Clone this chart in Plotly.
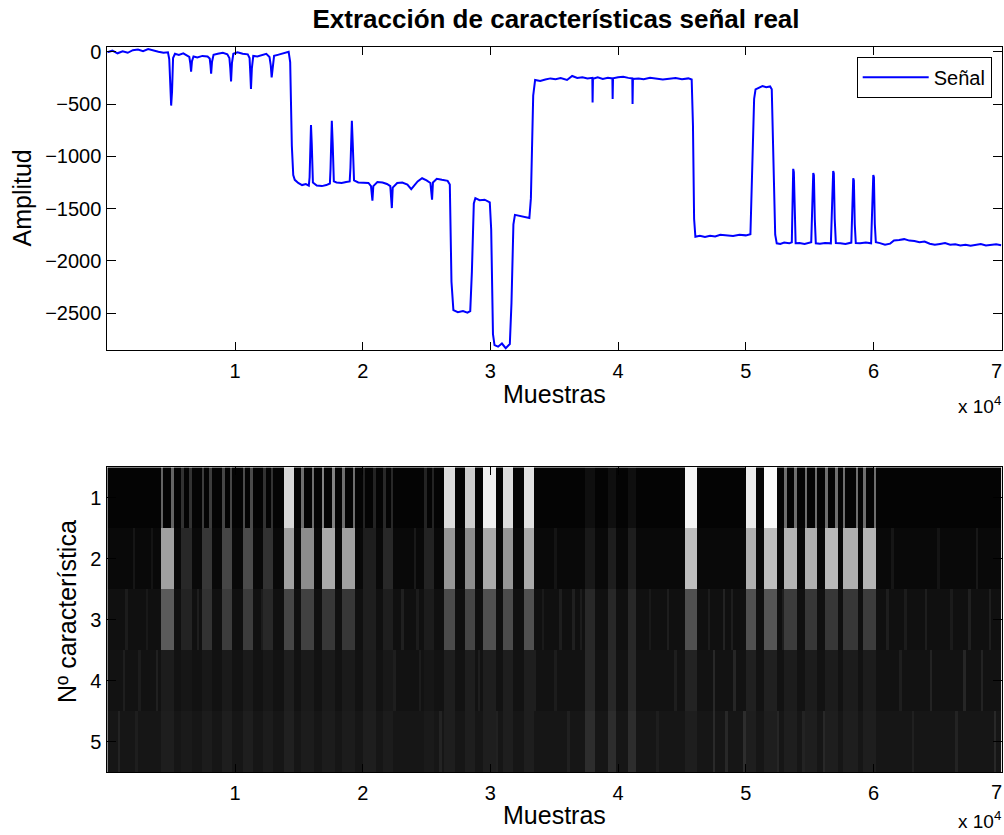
import plotly.graph_objects as go

title_text = "Extracción de características señal real"
x_label = "Muestras"
y_label_top = "Amplitud"
y_label_bottom = "Nº característica"
series_name = "Señal"

# ---- signal ----
sig_x = [0, 400, 800, 1200, 1600, 2000, 2400, 2800, 3200, 3600, 4000, 4400, 4750, 4850, 4950, 5000, 5070, 5150,
         5300, 5600, 5950, 6250, 6420, 6500, 6560, 6630, 6750, 7050, 7450, 7850, 8020, 8080, 8130, 8200, 8320,
         8650, 9050, 9400, 9560, 9630, 9690, 9760, 9870, 10200, 10600, 11000, 11140, 11200, 11250, 11320, 11430,
         11750, 12100, 12450, 12700, 12800, 12870, 12950, 13060, 13350, 13700, 14000, 14200, 14320, 14450, 14560,
         14680, 14950, 15250, 15550, 15780, 15840, 15900, 15950, 16010, 16100, 16400, 16800, 17150, 17430, 17480,
         17540, 17580, 17650, 17740, 17950, 18350, 18700, 18980, 19040, 19110, 19150, 19220, 19320, 19650, 20050,
         20450, 20650, 20710, 20760, 20830, 21150, 21550, 21900, 22160, 22220, 22280, 22350, 22700, 23100, 23500,
         23800, 23980, 24300, 24650, 25000, 25300, 25380, 25430, 25500, 25800, 26200, 26650, 26820, 26950, 27100,
         27450, 27850, 28200, 28420, 28550, 28700, 28820, 29150, 29550, 29950, 30060, 30200, 30320, 30600, 30900,
         31200, 31520, 31650, 31800, 31920, 32250, 32650, 33050, 33170, 33350, 33500, 33900, 34300, 34700, 35100,
         35500, 36000, 36400, 36800, 37200, 37600, 37980, 38000, 38030, 38400, 38800, 39200, 39550, 39570, 39600,
         40000, 40400, 40800, 41110, 41130, 41160, 41600, 42000, 42500, 43000, 43500, 44000, 44500, 45000, 45500,
         45760, 45860, 45950, 46050, 46400, 46800, 47200, 47600, 48000, 48500, 49000, 49500, 50000, 50360, 50500,
         50650, 50760, 51000, 51300, 51600, 51900, 52030, 52150, 52300, 52420, 52700, 53000, 53400, 53600, 53660,
         53710, 53760, 53830, 53900, 54200, 54600, 55120, 55220, 55280, 55330, 55400, 55480, 55800, 56200, 56660,
         56780, 56840, 56890, 56960, 57050, 57400, 57800, 58260, 58350, 58410, 58460, 58530, 58610, 58950, 59400,
         59810, 59920, 59980, 60030, 60100, 60180, 60500, 60900, 61300, 61600, 62000, 62400, 62800, 63200, 63600,
         64000, 64400, 64800, 65200, 65600, 66000, 66400, 66800, 67200, 67600, 68000, 68400, 68800, 69200, 69600,
         70000]
sig_y = [-5, 10, -15, 5, -10, 15, 20, 5, 25, 10, 0, -10, -5, -70, -470, -515, -380, -60,
         -20, -30, -15, -35, -50, -110, -190, -90, -45, -55, -40, -45, -65, -130, -210, -95, -30,
         -20, -10, -25, -60, -160, -285, -110, -20, -5, -20, -25, -60, -210, -355, -160, -40,
         -45, -30, -20, -50, -130, -245, -120, -40, -30, -15, -5, 0, -100, -900, -1180,
         -1225, -1255, -1275, -1265, -1280, -1200, -790, -700, -880, -1250, -1280, -1285, -1275, -1260, -1120,
         -720, -660, -880, -1240, -1250, -1255, -1245, -1240, -1110, -720, -660, -880, -1230, -1250, -1250,
         -1255, -1285, -1380, -1425, -1285, -1245, -1250, -1265, -1285, -1420, -1495, -1300, -1255, -1250, -1270,
         -1315, -1285, -1240, -1210, -1230, -1255, -1390, -1415, -1250, -1215, -1225, -1235, -1270, -2200, -2470,
         -2490, -2480, -2495, -2480, -2100, -1450, -1400, -1420, -1415, -1440, -1700, -2700, -2805, -2820, -2790,
         -2835, -2795, -2400, -1650, -1560, -1570, -1575, -1590, -1400, -420, -270, -280, -265, -255, -262,
         -252, -270, -232, -250, -245, -255, -250, -485, -258, -245, -260, -250, -255, -452, -255,
         -245, -240, -250, -255, -500, -260, -255, -262, -250, -255, -265, -258, -252, -262, -255,
         -265, -700, -1600, -1770, -1760, -1772, -1760, -1766, -1750, -1757, -1762, -1750, -1756, -1745, -1200,
         -450, -360, -345, -328, -340, -332, -360, -1000, -1750, -1832, -1838, -1825, -1832, -1822, -1420,
         -1120, -1150, -1600, -1832, -1830, -1838, -1822, -1500, -1160, -1180, -1600, -1832, -1836, -1828, -1832,
         -1450, -1140, -1160, -1600, -1830, -1832, -1838, -1825, -1500, -1210, -1230, -1650, -1830, -1832, -1825,
         -1832, -1500, -1180, -1200, -1650, -1822, -1830, -1846, -1835, -1805, -1800, -1792, -1806, -1810, -1822,
         -1815, -1836, -1846, -1838, -1830, -1846, -1840, -1852, -1845, -1856, -1845, -1838, -1852, -1845, -1840,
         -1850]

x_tick_vals = [10000, 20000, 30000, 40000, 50000, 60000, 70000]
x_tick_text = ["1", "2", "3", "4", "5", "6", ""]
last_tick_label = "7"  # drawn as an annotation so it stays inside the page edge
y_tick_vals = [0, -500, -1000, -1500, -2000, -2500]
feat_rows = [1, 2, 3, 4, 5]

# ---- feature image ----
bin_width = 200
n_samples = 70000
row_background = [4, 9, 16, 18, 22]
ev_start = [4340, 5950, 7520, 9080, 10650, 12350, 13910, 15350, 16910, 18480, 20180, 21740, 24880,
            26440, 28010, 29570, 31140, 32710, 45370, 50010, 51580, 53070, 54630, 56200, 57760, 59330,
            37560, 39200, 40920]
ev_end = [5040, 6480, 8170, 9740, 11310, 12870, 14520, 16130, 17620, 19260, 20880, 22390, 25530,
          27040, 28660, 30220, 31790, 33360, 46020, 50660, 52230, 53900, 55470, 57030, 58600, 60170,
          38030, 39740, 41310]
ev_edges = [1, 1, 1, 1, 1, 1, 0, 1, 1, 1, 1, 1, 1,
            0, 0, 0, 0, 0, 0, 0, 0, 1, 1, 1, 1, 1,
            0, 0, 0]
ev_r1 = [100, 50, 60, 70, 75, 50, 215, 110, 130, 110, 35, 40, 35,
         220, 205, 240, 220, 225, 245, 235, 250, 110, 110, 110, 110, 110, 15, 15, 15]
ev_r2 = [160, 40, 55, 70, 75, 50, 160, 140, 170, 160, 30, 40, 35,
         150, 140, 170, 150, 170, 190, 175, 190, 180, 175, 185, 175, 180, 25, 30, 30]
ev_r3 = [90, 35, 50, 60, 60, 40, 70, 65, 55, 55, 30, 30, 28,
         75, 70, 80, 75, 80, 80, 80, 85, 60, 55, 55, 55, 60, 40, 40, 40]
ev_r4 = [28, 22, 24, 26, 26, 24, 30, 26, 26, 26, 28, 24, 22,
         30, 30, 30, 30, 30, 35, 32, 32, 28, 28, 28, 28, 28, 40, 40, 40]
ev_r5 = [30, 26, 28, 30, 30, 28, 32, 28, 28, 28, 30, 28, 26,
         30, 30, 30, 30, 30, 30, 30, 30, 30, 30, 30, 30, 30, 45, 45, 45]

tex_x = [1500, 3000, 7000, 12000, 20000, 23000, 24200, 34000, 35500, 36500, 37000, 42500, 43800, 47000,
         48200, 48800, 52800, 61000, 62500, 64000, 66000, 67500, 69000,
         1200, 2500, 3800, 9500, 12800, 14000, 22500, 24500, 27000, 29000, 33500, 35000, 44500, 46000,
         47500, 49000, 50500, 53000, 62000, 64500, 67000, 68500,
         800, 2200, 4200, 6000, 11000, 14500, 17000, 20700, 26000, 30500, 33000, 36000, 43000, 45500,
         47500, 48500, 49800, 52500, 54500, 56000, 63000, 66500, 69500,
         2000, 3400, 24000, 35000, 61500, 65000, 68000]
tex_row = [3] * 23 + [4] * 22 + [5] * 23 + [2] * 7
tex_val = [28, 25, 30, 28, 30, 32, 28, 26, 30, 32, 28, 25, 30, 28,
           35, 30, 30, 30, 28, 30, 27, 32, 30,
           30, 28, 32, 28, 30, 60, 30, 28, 35, 30, 30, 28, 30, 45,
           40, 38, 40, 30, 30, 35, 38, 35,
           35, 30, 35, 32, 30, 35, 30, 55, 35, 33, 30, 32, 30, 35,
           42, 40, 45, 38, 35, 40, 32, 35, 40,
           22, 20, 25, 20, 22, 20, 24]

# build image matrix from the lists above
n_bins = n_samples // bin_width
bin_centers = [bin_width * (i + 0.5) for i in range(n_bins)]
img = [[row_background[r]] * n_bins for r in range(5)]
for xx, rr, vv in zip(tex_x, tex_row, tex_val):
    i = min(int(xx // bin_width), n_bins - 1)
    img[rr - 1][i] = max(img[rr - 1][i], vv)
for k in range(len(ev_start)):
    i0 = int(ev_start[k] // bin_width)
    i1 = min(int(ev_end[k] // bin_width), n_bins - 1)
    vals = [ev_r1[k], ev_r2[k], ev_r3[k], ev_r4[k], ev_r5[k]]
    for r in range(5):
        if r == 0 and ev_edges[k]:
            img[0][i0] = vals[0]
            img[0][i1] = vals[0]
        else:
            for i in range(i0, i1 + 1):
                img[r][i] = vals[r]

FONT = "Liberation Sans, Arial, Helvetica, sans-serif"

fig = go.Figure()
fig.add_trace(go.Scatter(x=sig_x, y=sig_y, mode="lines", name=series_name,
                         line=dict(color="#0000ff", width=2), xaxis="x", yaxis="y"))
fig.add_trace(go.Heatmap(x=bin_centers, y=feat_rows, z=img, zmin=0, zmax=255,
                         colorscale=[[0, "#000000"], [1, "#ffffff"]], showscale=False,
                         xaxis="x2", yaxis="y2", showlegend=False))

XD = [107.3 / 1004, 1001.5 / 1004]
axis_common = dict(showline=True, linecolor="black", linewidth=1, mirror="ticks",
                   ticks="inside", tickcolor="black", showgrid=False, zeroline=False,
                   automargin=False,
                   tickfont=dict(size=20, color="black", family=FONT))

fig.update_layout(
    width=1004, height=835, autosize=False,
    margin=dict(l=0, r=0, t=0, b=0, autoexpand=False),
    paper_bgcolor="white", plot_bgcolor="white",
    font=dict(family=FONT, color="black"),
    title=dict(text="<b>" + title_text + "</b>", x=556 / 1004, xanchor="center",
               y=1 - 19 / 835, yanchor="middle", automargin=False,
               font=dict(size=26, color="black", family=FONT)),
    xaxis=dict(domain=XD, anchor="y", range=[0, 70020], tickvals=x_tick_vals, ticktext=x_tick_text,
               ticklen=8, ticklabelstandoff=3, **axis_common),
    yaxis=dict(domain=[1 - 350 / 835, 1 - 46.7 / 835], anchor="x", range=[-2852, 48],
               tickvals=y_tick_vals, ticklen=9, ticklabelstandoff=1, **axis_common),
    xaxis2=dict(domain=XD, anchor="y2", range=[0, 70020], tickvals=x_tick_vals, ticktext=x_tick_text,
                ticklen=8, ticklabelstandoff=3, **axis_common),
    yaxis2=dict(domain=[1 - 772 / 835, 1 - 467.3 / 835], anchor="x2", range=[5.5, 0.5],
                tickvals=feat_rows, ticklen=9, ticklabelstandoff=1, **axis_common),
    legend=dict(x=991.7 / 1004, y=1 - 56.7 / 835, xanchor="right", yanchor="top",
                bordercolor="black", borderwidth=1, bgcolor="white",
                font=dict(size=20, color="black", family=FONT), itemwidth=66),
    showlegend=True,
    annotations=[
        dict(text=y_label_top, x=22 / 1004, y=1 - 198.5 / 835, xref="paper", yref="paper",
             textangle=-90, showarrow=False, font=dict(size=25), xanchor="center", yanchor="middle"),
        dict(text=x_label, x=554 / 1004, y=1 - 394 / 835, xref="paper", yref="paper",
             showarrow=False, font=dict(size=25), xanchor="center", yanchor="middle"),
        dict(text="x 10<sup>4</sup>", x=1003 / 1004, y=1 - 405 / 835, xref="paper", yref="paper",
             showarrow=False, font=dict(size=19), xanchor="right", yanchor="middle"),
        dict(text=y_label_bottom, x=67 / 1004, y=1 - 612 / 835, xref="paper", yref="paper",
             textangle=-90, showarrow=False, font=dict(size=25), xanchor="center", yanchor="middle"),
        dict(text=x_label, x=554 / 1004, y=1 - 815 / 835, xref="paper", yref="paper",
             showarrow=False, font=dict(size=25), xanchor="center", yanchor="middle"),
        dict(text="x 10<sup>4</sup>", x=1003 / 1004, y=1 - 820 / 835, xref="paper", yref="paper",
             showarrow=False, font=dict(size=19), xanchor="right", yanchor="middle"),
        dict(text=last_tick_label, x=1003.5 / 1004, y=1 - 371 / 835, xref="paper", yref="paper",
             showarrow=False, font=dict(size=20), xanchor="right", yanchor="middle"),
        dict(text=last_tick_label, x=1003.5 / 1004, y=1 - 792 / 835, xref="paper", yref="paper",
             showarrow=False, font=dict(size=20), xanchor="right", yanchor="middle"),
    ],
)

fig.write_html("out.html")
